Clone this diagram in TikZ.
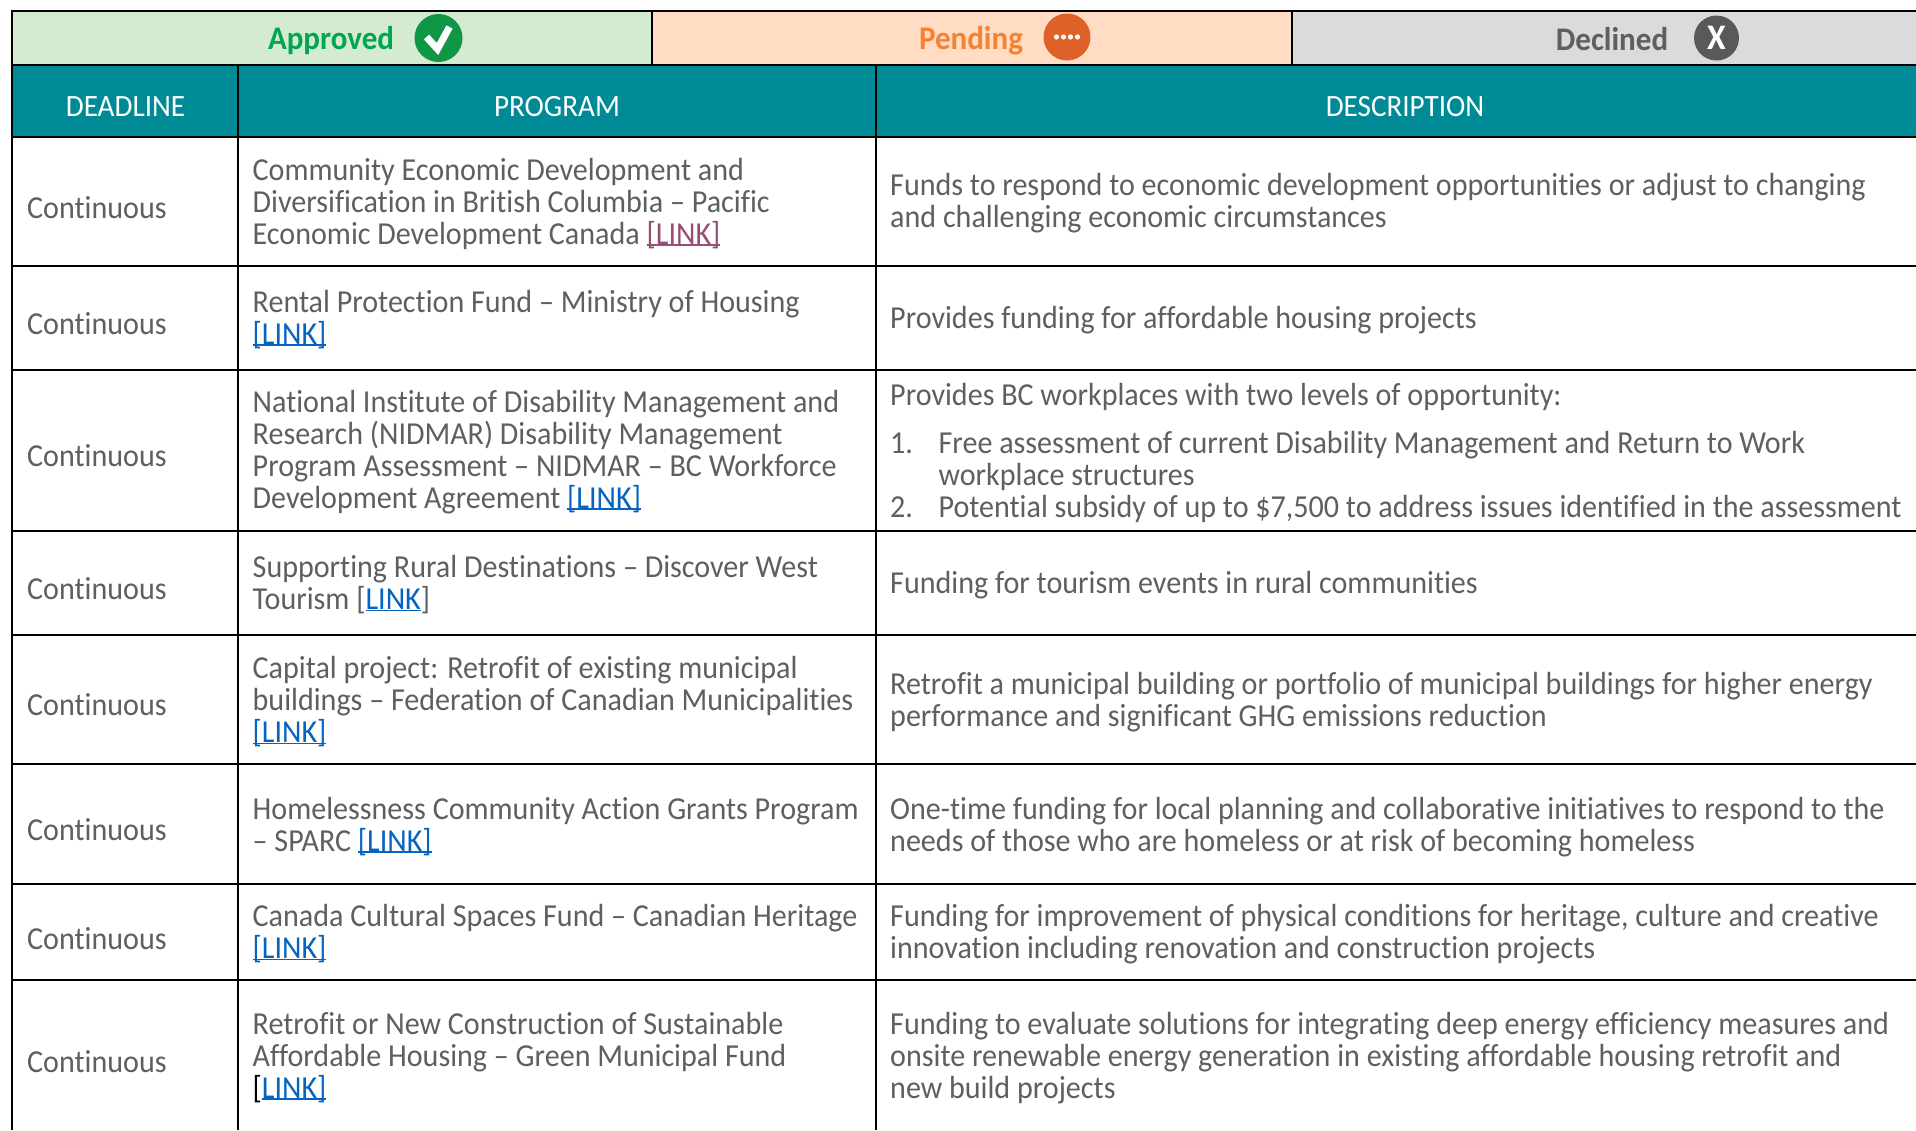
\documentclass[tikz,border=0pt]{standalone}
\usepackage{fontspec}
\setmainfont[FakeStretch=0.94,Ligatures=NoCommon]{Carlito}
\definecolor{apprFill}{HTML}{D5EBD0}
\definecolor{pendFill}{HTML}{FFDCC3}
\definecolor{declFill}{HTML}{DADBDD}
\definecolor{teal}{HTML}{008A96}
\definecolor{txt}{HTML}{5E5F61}
\definecolor{lnkb}{HTML}{0563C1}
\definecolor{lnkp}{HTML}{954F72}
\definecolor{apprT}{HTML}{00A651}
\definecolor{apprI}{HTML}{0F9647}
\definecolor{pendT}{HTML}{F58233}
\definecolor{pendI}{HTML}{DD6128}
\definecolor{declI}{HTML}{58595B}
\lineskiplimit=-100pt
\normallineskiplimit=-100pt
\newcommand{\mys}{\rule{0pt}{40pt}\rule[-18.4pt]{0pt}{18.4pt}}
\newcommand{\ul}[1]{\leavevmode\setbox0\hbox{#1}\rlap{\rule[-1.5pt]{\wd0}{1.8pt}}\box0}
\newcommand{\lnk}{{\color{lnkb}\ul{[LINK]}}}
\newcommand{\lnkv}{{\color{lnkp}\ul{[LINK]}}}
\newcommand{\lnkm}{[{\color{lnkb}\ul{LINK}}]}
\newcommand{\lnkn}{{\color{black}[}{\color{lnkb}\ul{LINK]}}}
\tikzset{
 cell/.style={anchor=west,inner sep=0pt,align=left,text=txt,font=\fontsize{32}{32}\selectfont},
 head/.style={inner sep=0pt,text=white,font=\fontsize{31}{32}\selectfont},
 stat/.style={inner sep=0pt,anchor=center,font=\fontsize{33}{32}\selectfont\bfseries},
 rule/.style={draw=black,line width=2pt},
 icon/.style={circle,inner sep=0pt},
}
\begin{document}
\begin{tikzpicture}[x=1pt,y=-1pt]
\useasboundingbox (0,0) rectangle (1916,1130);
\fill[white] (0,0) rectangle (1916,1130);
% status band
\fill[apprFill] (12,11) rectangle (652,65);
\fill[pendFill] (652,11) rectangle (1292,65);
\fill[declFill] (1292,11) rectangle (1916,65);
\fill[teal] (12,65) rectangle (1916,137);
% rules
\draw[rule,line width=2.4pt] (11,11) -- (1916,11);
\draw[rule,line width=2.4pt] (11,65) -- (1916,65);
\draw[rule,line width=2.6pt] (11,137) -- (1916,137);
\foreach \yy in {266,370,531,635,764,884,980} \draw[rule] (11,\yy) -- (1916,\yy);
\draw[rule] (12,10) -- (12,1130);
\draw[rule] (652,11) -- (652,65);
\draw[rule] (1292,11) -- (1292,65);
\draw[rule] (238,65) -- (238,1130);
\draw[rule] (876,65) -- (876,1130);
% status labels
\node[stat,text=apprT] (approved) at (331,41) {Approved};
\node[icon,fill=apprI,minimum size=48pt] (iconA) at (438.5,38) {};
\draw[white,line width=7pt,line join=miter] ([shift={(-12,-1)}]iconA.center) -- ([shift={(-1,11)}]iconA.center) -- ([shift={(11,-11)}]iconA.center);
\node[stat,text=pendT] (pending) at (971,41) {Pending};
\node[icon,fill=pendI,minimum size=47pt] (iconP) at (1067,37) {};
\foreach \dx in {-10.5,-3.5,3.5,10.5} \fill[white] ([xshift=\dx pt]iconP.center) circle (2.6pt);
\node[stat,text=txt] (declined) at (1612,39) {Declined};
\node[icon,fill=declI,minimum size=45pt] (iconD) at (1716.5,38) {};
\node[inner sep=0pt,text=white,font=\fontsize{36}{36}\selectfont\bfseries] (xmark) at (iconD.center) {X};
% headers
\node[head] (h1) at (125.5,107) {DEADLINE};
\node[head] (h2) at (557,107) {PROGRAM};
\node[head] (h3) at (1405,107) {DESCRIPTION};
% deadline
\node[cell] (d1) at (27,207.7) {\mys Continuous};
\node[cell] (d2) at (27,323.8) {\mys Continuous};
\node[cell] (d3) at (27,455.8) {\mys Continuous};
\node[cell] (d4) at (27,589) {\mys Continuous};
\node[cell] (d5) at (27,705) {\mys Continuous};
\node[cell] (d6) at (27,829.7) {\mys Continuous};
\node[cell] (d7) at (27,938.4) {\mys Continuous};
\node[cell] (d8) at (27,1061.8) {\mys Continuous};
% programs
\node[cell] (p1) at (252.5,201.6) {\mys Community Economic Development and\\Diversification in British Columbia – Pacific\\Economic Development Canada \lnkv\mys};
\node[cell] (p2) at (252.5,317.7) {\mys Rental Protection Fund – Ministry of Housing\\\lnk\mys};
\node[cell] (p3) at (252.5,449.7) {\mys National Institute of Disability Management and\\Research (NIDMAR) Disability Management\\Program Assessment – NIDMAR – BC Workforce\\Development Agreement \lnk\mys};
\node[cell] (p4) at (252.5,583) {\mys Supporting Rural Destinations – Discover West\\Tourism \lnkm\mys};
\node[cell] (p5) at (252.5,700) {\mys Capital project: Retrofit of existing municipal\\buildings – Federation of Canadian Municipalities\\\lnk\mys};
\node[cell] (p6) at (252.5,824.8) {\mys Homelessness Community Action Grants Program\\– SPARC \lnk\mys};
\node[cell] (p7) at (252.5,932) {\mys Canada Cultural Spaces Fund – Canadian Heritage\\\lnk\mys};
\node[cell] (p8) at (252.5,1055.7) {\mys Retrofit or New Construction of Sustainable\\Affordable Housing – Green Municipal Fund\\\lnkn\mys};
% descriptions
\node[cell] (t1) at (890,201) {\mys Funds to respond to economic development opportunities or adjust to changing\\and challenging economic circumstances\mys};
\node[cell] (t2) at (890,317.7) {\mys Provides funding for affordable housing projects};
\node[cell] (t3) at (890,394.7) {\mys Provides BC workplaces with two levels of opportunity:};
\node[cell] (n1) at (890,442.3) {\mys 1.};
\node[cell] (l1) at (938.4,458.3) {\mys Free assessment of current Disability Management and Return to Work\\workplace structures\mys};
\node[cell] (n2) at (890,507) {\mys 2.};
\node[cell] (l2) at (938.4,507) {\mys Potential subsidy of up to \$7,500 to address issues identified in the assessment};
\node[cell] (t4) at (890,583) {\mys Funding for tourism events in rural communities};
\node[cell] (t5) at (890,700) {\mys Retrofit a municipal building or portfolio of municipal buildings for higher energy\\performance and significant GHG emissions reduction\mys};
\node[cell] (t6) at (890,824.8) {\mys One-time funding for local planning and collaborative initiatives to respond to the\\needs of those who are homeless or at risk of becoming homeless\mys};
\node[cell] (t7) at (890,932) {\mys Funding for improvement of physical conditions for heritage, culture and creative\\innovation including renovation and construction projects\mys};
\node[cell] (t8) at (890,1055.7) {\mys Funding to evaluate solutions for integrating deep energy efficiency measures and\\onsite renewable energy generation in existing affordable housing retrofit and\\new build projects\mys};
\end{tikzpicture}
\end{document}
